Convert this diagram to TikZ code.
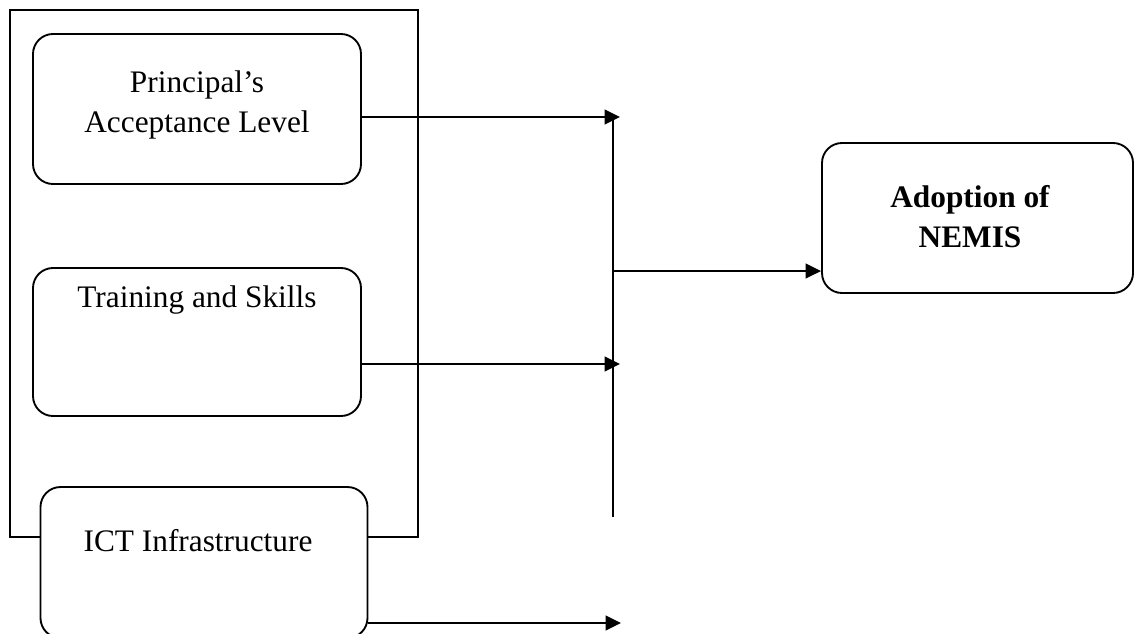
\documentclass[tikz,border=0pt]{standalone}
\usepackage{fontspec}
\setmainfont{Liberation Serif}
\usetikzlibrary{arrows.meta}
\begin{document}
\begin{tikzpicture}[x=0.75pt,y=-0.75pt,
  line width=1.4pt,
  rbox/.style={draw, rounded corners=15pt, fill=white, inner sep=0pt},
  lbl/.style={align=center, font=\fontsize{23.5}{30}\selectfont, inner sep=0pt},
  arr/.style={-{Triangle[length=11.5pt,width=11pt]}}
]
\useasboundingbox (0,0) rectangle (1137,633);
% outer frame
\draw (10,10) rectangle (418,537);
% boxes
\node[rbox, minimum width=328*0.75pt, minimum height=150*0.75pt] (b1) at (197,109) {};
\node[rbox, minimum width=328*0.75pt, minimum height=148*0.75pt] (b2) at (197,342) {};
\node[rbox, minimum width=327*0.75pt, minimum height=151*0.75pt] (b3) at (204,562.5) {};
\node[rbox, minimum width=311*0.75pt, minimum height=150*0.75pt] (ad) at (977.5,218) {};
% labels
\node[lbl] (t1) at (197,105) {Principal’s\\Acceptance Level};
\node[lbl] (t2) at (197,300) {Training and Skills};
\node[lbl] (t3) at (198,541) {ICT Infrastructure};
\node[lbl, font=\fontsize{23.5}{30}\selectfont\bfseries] (t4) at (970,217) {Adoption of\\NEMIS};
% junction coordinates
\coordinate (j1) at (620,117);
\coordinate (j2) at (620,364);
\coordinate (j3) at (621,623);
\coordinate (vt) at (613,117);
\coordinate (vb) at (613,517);
\coordinate (vm) at (613,271);
% connectors
\draw[arr] (b1.east |- j1) -- (j1);
\draw[arr] (b2.east |- j2) -- (j2);
\draw[arr] (b3.east |- j3) -- (j3);
\draw (vt) -- (vb);
\draw[arr] (vm) -- (ad.west |- vm);
\end{tikzpicture}
\end{document}
